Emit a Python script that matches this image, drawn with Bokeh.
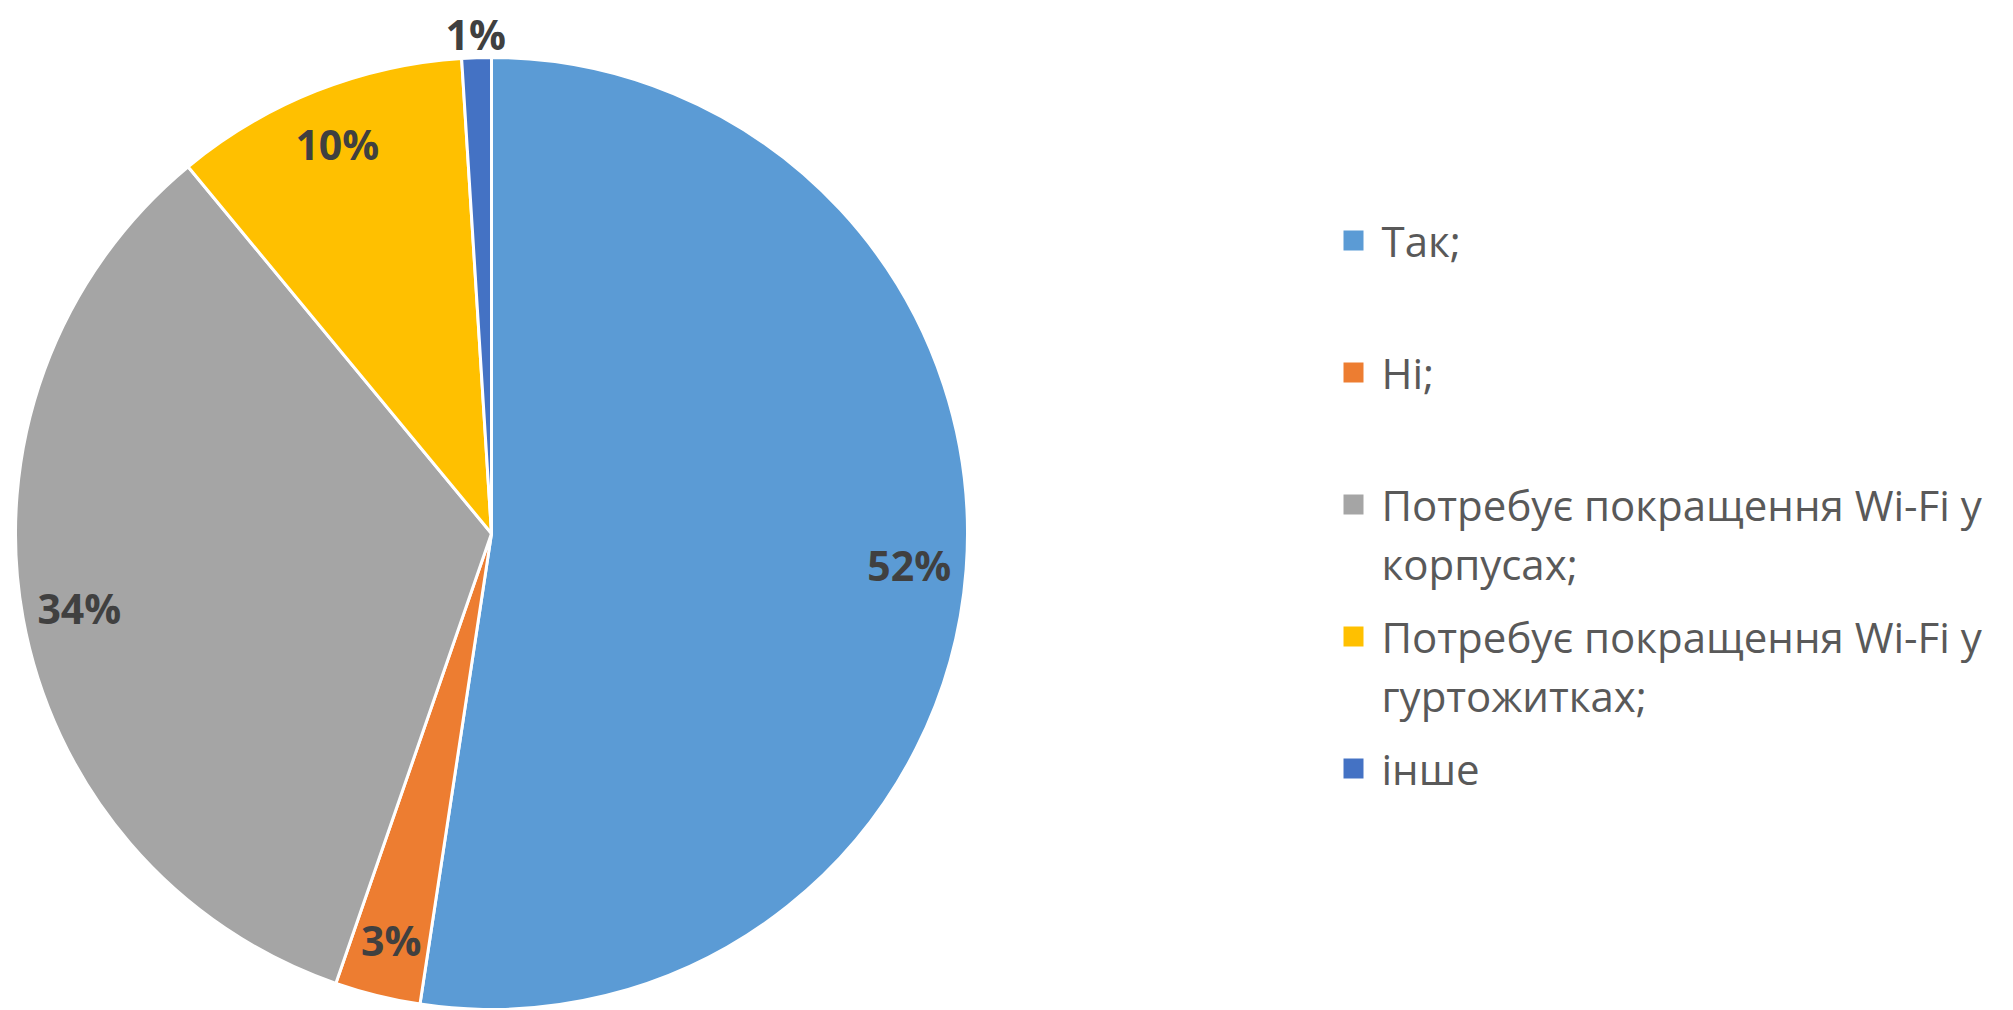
import math
import textwrap
from bokeh.plotting import figure
from bokeh.models import Range1d, ColumnDataSource
from bokeh.core.properties import value
from bokeh.embed import file_html
from bokeh.resources import INLINE

# ---- data ----
categories = [
    "Так;",
    "Ні;",
    "Потребує покращення Wi-Fi у корпусах;",
    "Потребує покращення Wi-Fi у гуртожитках;",
    "інше",
]
shares = [52.4, 2.9, 33.7, 10.0, 1.0]
colors = ["#5B9BD5", "#ED7D31", "#A5A5A5", "#FFC000", "#4472C4"]

# ---- layout (pixel-unit data space) ----
W, H = 1990, 1008
CX, CY, R = 491, H - 533, 476
FONT = "Open Sans"

p = figure(width=W, height=H, x_range=Range1d(0, W), y_range=Range1d(0, H),
           output_backend="svg", toolbar_location=None, min_border=0)
p.axis.visible = False
p.grid.visible = False
p.outline_line_color = None
p.background_fill_color = "white"

total = sum(shares)
starts, ends, mids = [], [], []
cum = 0.0
for s in shares:
    a0 = math.pi / 2 - 2 * math.pi * cum / total
    cum += s
    a1 = math.pi / 2 - 2 * math.pi * cum / total
    starts.append(a0)
    ends.append(a1)
    mids.append((a0 + a1) / 2)

src = ColumnDataSource(dict(start=starts, end=ends, color=colors, cat=categories))
p.wedge(x=CX, y=CY, radius=R, start_angle="start", end_angle="end",
        direction="clock", fill_color="color", line_color="white",
        line_width=3, source=src)

# data labels
lx, ly, lt = [], [], []
for s, m in zip(shares, mids):
    f = 1.05 if s / total < 0.02 else 0.88
    lx.append(CX + f * R * math.cos(m))
    ly.append(CY + f * R * math.sin(m))
    lt.append(f"{round(s / total * 100)}%")
p.text(x=lx, y=ly, text=lt, text_font=value(FONT), text_font_style="bold",
       text_font_size="41px", text_color="#404040", text_align="center",
       text_baseline="middle")

# legend (manual, with wrapping)
LEG_X, LEG_TX, LEG_Y0, PITCH, LINE = 1353, 1381, H - 240, 132, 59
mx, my, mc = [], [], []
tx, ty, tt = [], [], []
for i, (c, col) in enumerate(zip(categories, colors)):
    y0 = LEG_Y0 - i * PITCH
    mx.append(LEG_X)
    my.append(y0)
    mc.append(col)
    for k, line in enumerate(textwrap.wrap(c, width=27, break_on_hyphens=False)):
        tx.append(LEG_TX)
        ty.append(y0 - k * LINE)
        tt.append(line)
p.scatter(x=mx, y=my, marker="square", size=20, fill_color=mc, line_color=None)
p.text(x=tx, y=ty, text=tt, text_font=value(FONT), text_font_size="42px",
       text_color="#595959", text_align="left", text_baseline="middle")

open("out.html", "w").write(file_html(p, INLINE))
